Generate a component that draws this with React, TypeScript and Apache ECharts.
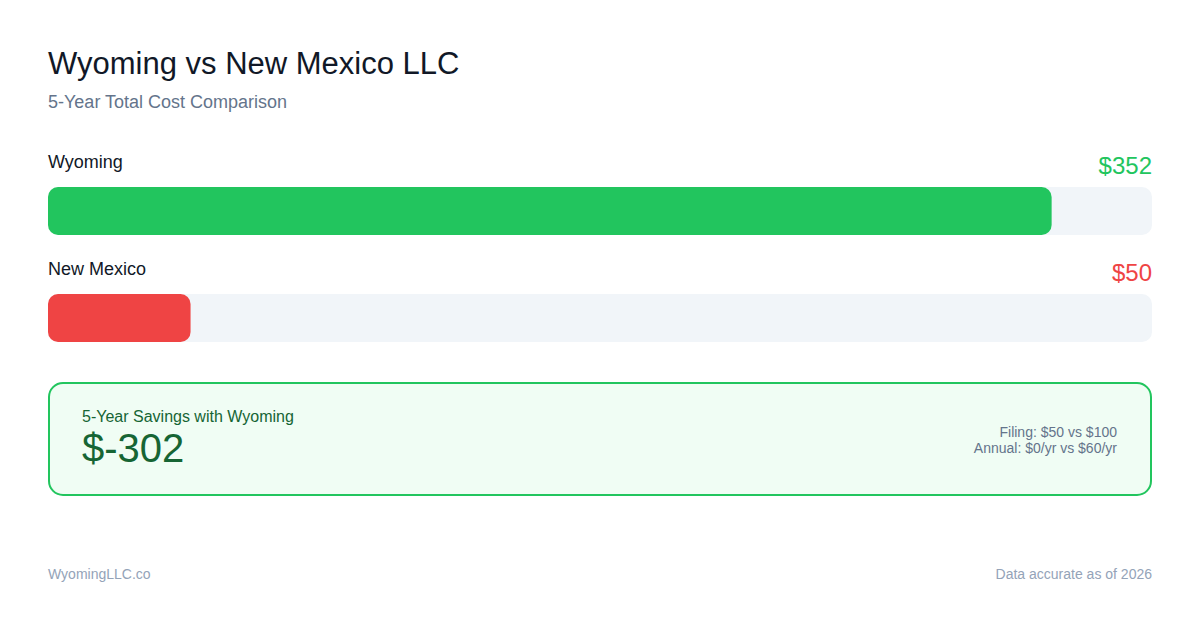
import * as echarts from 'echarts';
import { useEffect, useRef } from 'react';

// data
const states = ['Wyoming', 'New Mexico'];
const fiveYearCost = [352, 50];
const barColors = ['#22c55e', '#ef4444'];
const filingFees = ['$50', '$100'];
const annualFees = ['$0/yr', '$60/yr'];
const dataYear = 2026;

const FONT = '"Liberation Sans", Arial, Helvetica, sans-serif';
const axisMax = Math.max(...fiveYearCost) * 1.1;
const savings = fiveYearCost[1] - fiveYearCost[0];

export default function App() {
  const ref = useRef<HTMLDivElement | null>(null);

  useEffect(() => {
    if (!ref.current) return undefined;
    const chart = echarts.init(ref.current, undefined, { renderer: 'svg' });

    const barWidth = 48;
    const radius = 10;

    chart.setOption({
      animation: false,
      backgroundColor: '#ffffff',
      grid: { left: 48, right: 48, top: 157.5, height: 214 },
      xAxis: { type: 'value', min: 0, max: axisMax, show: false },
      yAxis: {
        type: 'category',
        data: states,
        inverse: true,
        show: false,
      },
      series: [
        {
          // track + state name
          type: 'bar',
          barWidth,
          barGap: '-100%',
          silent: true,
          data: states.map(() => axisMax),
          itemStyle: { color: '#f1f5f9', borderRadius: radius },
          label: {
            show: true,
            position: [0, -25],
            verticalAlign: 'middle',
            align: 'left',
            formatter: (p: { dataIndex: number }) => states[p.dataIndex],
            fontFamily: FONT,
            fontSize: 18,
            color: '#111827',
          },
        },
        {
          type: 'bar',
          barWidth,
          barGap: '-100%',
          data: fiveYearCost.map((v, i) => ({ value: v, itemStyle: { color: barColors[i] } })),
          itemStyle: { borderRadius: radius },
        },
        {
          // value label at right end of the track
          type: 'bar',
          barWidth,
          barGap: '-100%',
          silent: true,
          data: states.map((_, i) => ({
            value: axisMax,
            label: { color: barColors[i] },
          })),
          itemStyle: { color: 'rgba(0,0,0,0)' },
          label: {
            show: true,
            position: ['100%', -22],
            verticalAlign: 'middle',
            align: 'right',
            formatter: (p: { dataIndex: number }) => `$${fiveYearCost[p.dataIndex]}`,
            fontFamily: FONT,
            fontSize: 24,
          },
        },
      ],
      graphic: [
        {
          type: 'text',
          left: 48,
          top: 48,
          style: { text: 'Wyoming vs New Mexico LLC', font: `31px ${FONT}`, fill: '#111827' },
        },
        {
          type: 'text',
          x: 48,
          y: 102,
          style: {
            text: '5-Year Total Cost Comparison',
            font: `18px ${FONT}`,
            fill: '#64748b',
            textVerticalAlign: 'middle',
          },
        },
        {
          type: 'rect',
          shape: { x: 49, y: 383, width: 1102, height: 112, r: 14 },
          style: { fill: '#f0fdf4', stroke: '#22c55e', lineWidth: 2 },
        },
        {
          type: 'text',
          x: 82,
          y: 416,
          style: {
            text: `5-Year Savings with ${states[0]}`,
            font: `16px ${FONT}`,
            fill: '#166534',
            textVerticalAlign: 'middle',
          },
        },
        {
          type: 'text',
          x: 82,
          y: 448,
          style: {
            text: `$${savings}`,
            font: `40px ${FONT}`,
            fill: '#166534',
            textVerticalAlign: 'middle',
          },
        },
        {
          type: 'text',
          x: 1117,
          y: 432,
          style: {
            text: `Filing: ${filingFees[0]} vs ${filingFees[1]}`,
            font: `14px ${FONT}`,
            fill: '#64748b',
            textAlign: 'right',
            textVerticalAlign: 'middle',
          },
        },
        {
          type: 'text',
          x: 1117,
          y: 448,
          style: {
            text: `Annual: ${annualFees[0]} vs ${annualFees[1]}`,
            font: `14px ${FONT}`,
            fill: '#64748b',
            textAlign: 'right',
            textVerticalAlign: 'middle',
          },
        },
        {
          type: 'text',
          x: 48,
          y: 574,
          style: {
            text: 'WyomingLLC.co',
            font: `14px ${FONT}`,
            fill: '#94a3b8',
            textVerticalAlign: 'middle',
          },
        },
        {
          type: 'text',
          x: 1152,
          y: 574,
          style: {
            text: `Data accurate as of ${dataYear}`,
            font: `14px ${FONT}`,
            fill: '#94a3b8',
            textAlign: 'right',
            textVerticalAlign: 'middle',
          },
        },
      ],
    });

    return () => chart.dispose();
  }, []);

  return (
    <div
      ref={ref}
      style={{ position: 'fixed', left: 0, top: 0, width: 1200, height: 630 }}
    />
  );
}
